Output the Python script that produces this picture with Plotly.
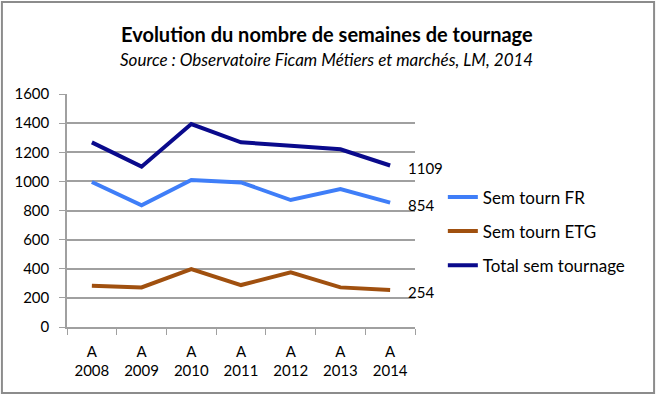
import plotly.graph_objects as go

categories = ["A<br>2008", "A<br>2009", "A<br>2010", "A<br>2011", "A<br>2012", "A<br>2013", "A<br>2014"]
sem_fr = [996, 836, 1009, 993, 872, 947, 854]
sem_etg = [284, 272, 398, 288, 376, 272, 254]
total_sem = [1268, 1101, 1394, 1268, 1245, 1220, 1109]
y_ticks = [0, 200, 400, 600, 800, 1000, 1200, 1400, 1600]

FONT = "Lato"
series = [
    ("Sem tourn FR", sem_fr, "#3f7ef8"),
    ("Sem tourn ETG", sem_etg, "#a0500f"),
    ("Total sem tournage", total_sem, "#0a0a8c"),
]

fig = go.Figure()
annotations = []
for i, (name, vals, col) in enumerate(series):
    fig.add_trace(go.Scatter(
        x=categories, y=vals, name=name, mode="lines",
        line=dict(color=col, width=4),
        legendgroup=f"g{i}", cliponaxis=False,
    ))
    annotations.append(dict(
        x=categories[-1], y=vals[-1], xref="x", yref="y", text=str(vals[-1]),
        showarrow=False, xanchor="left", yanchor="middle", xshift=16, yshift=-2,
        font=dict(family=FONT, size=15, color="#000000"),
    ))

annotations += [
    dict(text="<b>Evolution du nombre de semaines de tournage</b>", xref="paper", yref="paper",
         x=0.747, y=1.258, xanchor="center", yanchor="middle", showarrow=False,
         font=dict(family=FONT, size=20)),
    dict(text="<i>Source : Observatoire Ficam Métiers et marchés, LM, 2014</i>", xref="paper", yref="paper",
         x=0.747, y=1.146, xanchor="center", yanchor="middle", showarrow=False,
         font=dict(family=FONT, size=17)),
]

fig.update_layout(
    width=657, height=396,
    margin=dict(l=67, r=242, t=94, b=69),
    paper_bgcolor="white", plot_bgcolor="white",
    font=dict(family=FONT, size=15, color="#000000"),
    showlegend=True,
    legend=dict(x=1.08, y=0.41, xanchor="left", yanchor="middle",
                font=dict(family=FONT, size=17), tracegroupgap=9,
                bgcolor="rgba(0,0,0,0)"),
    annotations=annotations,
    shapes=[
        dict(type="rect", xref="paper", yref="paper", x0=-0.187, x1=1.687, y0=-0.283, y1=1.395,
             line=dict(color="#8c8c8c", width=2), layer="below"),
    ],
)
fig.update_xaxes(
    type="category", range=[-0.5, 6.5], tickson="boundaries",
    showgrid=False, showline=True, linecolor="#a0a0a0", linewidth=1.5,
    ticks="outside", ticklen=6, tickcolor="#a0a0a0", tickangle=0, ticklabelstandoff=10,
)
fig.update_yaxes(
    range=[0, 1600], tickvals=y_ticks, showgrid=True, gridcolor="#a0a0a0", gridwidth=1.5,
    showline=True, linecolor="#a0a0a0", linewidth=1.5, zeroline=False,
    ticks="outside", ticklen=6, tickcolor="#a0a0a0", ticklabelstandoff=7,
)
fig.write_html("out.html", config={"displayModeBar": False},
               post_script="document.body.style.margin='0';")
